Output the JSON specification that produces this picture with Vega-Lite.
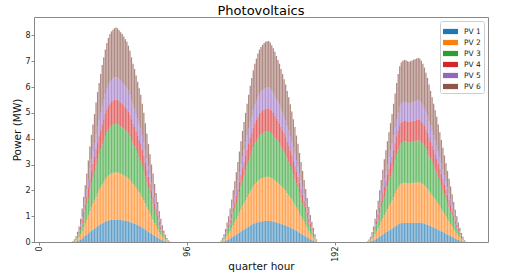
{
  "$schema": "https://vega.github.io/schema/vega-lite/v6.json",
  "width": 454,
  "height": 225,
  "autosize": {"type": "none"},
  "padding": {"left": 34, "top": 17, "right": 35, "bottom": 33},
  "background": "white",
  "title": {"text": "Photovoltaics", "fontSize": 13, "font": "DejaVu Sans", "fontWeight": "normal", "color": "#000", "offset": -1, "anchor": "middle"},
  "config": {
    "font": "DejaVu Sans",
    "view": {"stroke": "#888", "strokeWidth": 1},
    "axis": {"domain": false, "grid": false, "tickColor": "#888", "tickSize": 3, "labelFontSize": 8, "labelColor": "#222", "titleFontSize": 10.5, "titleFontWeight": "normal", "titleColor": "#111", "labelPadding": 1}
  },
  "data": {"values": [
{"t":22,"1":0.004,"2":0.009,"3":0.009,"4":0.005,"5":0.004,"6":0.009},
{"t":23,"1":0.011,"2":0.022,"3":0.023,"4":0.011,"5":0.011,"6":0.023},
{"t":24,"1":0.023,"2":0.048,"3":0.05,"4":0.025,"5":0.023,"6":0.051},
{"t":25,"1":0.042,"2":0.088,"3":0.091,"4":0.045,"5":0.042,"6":0.092},
{"t":26,"1":0.063,"2":0.132,"3":0.136,"4":0.068,"5":0.063,"6":0.138},
{"t":27,"1":0.095,"2":0.198,"3":0.204,"4":0.102,"5":0.095,"6":0.207},
{"t":28,"1":0.137,"2":0.286,"3":0.295,"4":0.147,"5":0.137,"6":0.299},
{"t":29,"1":0.184,"2":0.385,"3":0.397,"4":0.198,"5":0.184,"6":0.403},
{"t":30,"1":0.231,"2":0.484,"3":0.499,"4":0.249,"5":0.231,"6":0.506},
{"t":31,"1":0.278,"2":0.583,"3":0.602,"4":0.299,"5":0.278,"6":0.61},
{"t":32,"1":0.331,"2":0.693,"3":0.715,"4":0.356,"5":0.331,"6":0.725},
{"t":33,"1":0.389,"2":0.814,"3":0.84,"4":0.418,"5":0.389,"6":0.851},
{"t":34,"1":0.436,"2":0.913,"3":0.942,"4":0.469,"5":0.436,"6":0.955},
{"t":35,"1":0.478,"2":1.001,"3":1.033,"4":0.514,"5":0.478,"6":1.047},
{"t":36,"1":0.52,"2":1.089,"3":1.124,"4":0.559,"5":0.52,"6":1.139},
{"t":37,"1":0.567,"2":1.188,"3":1.226,"4":0.61,"5":0.567,"6":1.242},
{"t":38,"1":0.609,"2":1.276,"3":1.317,"4":0.655,"5":0.609,"6":1.334},
{"t":39,"1":0.646,"2":1.353,"3":1.396,"4":0.695,"5":0.646,"6":1.415},
{"t":40,"1":0.683,"2":1.43,"3":1.476,"4":0.735,"5":0.683,"6":1.495},
{"t":41,"1":0.719,"2":1.507,"3":1.555,"4":0.774,"5":0.719,"6":1.576},
{"t":42,"1":0.751,"2":1.573,"3":1.623,"4":0.808,"5":0.751,"6":1.645},
{"t":43,"1":0.782,"2":1.639,"3":1.691,"4":0.842,"5":0.782,"6":1.714},
{"t":44,"1":0.809,"2":1.694,"3":1.748,"4":0.87,"5":0.809,"6":1.771},
{"t":45,"1":0.83,"2":1.738,"3":1.793,"4":0.893,"5":0.83,"6":1.817},
{"t":46,"1":0.845,"2":1.771,"3":1.827,"4":0.91,"5":0.845,"6":1.852},
{"t":47,"1":0.856,"2":1.793,"3":1.85,"4":0.921,"5":0.856,"6":1.875},
{"t":48,"1":0.863,"2":1.808,"3":1.866,"4":0.929,"5":0.863,"6":1.891},
{"t":49,"1":0.869,"2":1.822,"3":1.88,"4":0.936,"5":0.869,"6":1.904},
{"t":50,"1":0.872,"2":1.826,"3":1.884,"4":0.938,"5":0.872,"6":1.909},
{"t":51,"1":0.868,"2":1.819,"3":1.877,"4":0.935,"5":0.868,"6":1.902},
{"t":52,"1":0.861,"2":1.804,"3":1.861,"4":0.927,"5":0.861,"6":1.886},
{"t":53,"1":0.853,"2":1.786,"3":1.843,"4":0.918,"5":0.853,"6":1.868},
{"t":54,"1":0.845,"2":1.771,"3":1.827,"4":0.91,"5":0.845,"6":1.852},
{"t":55,"1":0.835,"2":1.749,"3":1.805,"4":0.898,"5":0.835,"6":1.829},
{"t":56,"1":0.824,"2":1.727,"3":1.782,"4":0.887,"5":0.824,"6":1.806},
{"t":57,"1":0.814,"2":1.705,"3":1.759,"4":0.876,"5":0.814,"6":1.783},
{"t":58,"1":0.798,"2":1.672,"3":1.725,"4":0.859,"5":0.798,"6":1.748},
{"t":59,"1":0.777,"2":1.628,"3":1.68,"4":0.836,"5":0.777,"6":1.702},
{"t":60,"1":0.751,"2":1.573,"3":1.623,"4":0.808,"5":0.751,"6":1.645},
{"t":61,"1":0.725,"2":1.518,"3":1.566,"4":0.78,"5":0.725,"6":1.587},
{"t":62,"1":0.704,"2":1.474,"3":1.521,"4":0.757,"5":0.704,"6":1.541},
{"t":63,"1":0.677,"2":1.419,"3":1.464,"4":0.729,"5":0.677,"6":1.484},
{"t":64,"1":0.651,"2":1.364,"3":1.407,"4":0.701,"5":0.651,"6":1.426},
{"t":65,"1":0.625,"2":1.309,"3":1.351,"4":0.672,"5":0.625,"6":1.369},
{"t":66,"1":0.599,"2":1.254,"3":1.294,"4":0.644,"5":0.599,"6":1.311},
{"t":67,"1":0.562,"2":1.177,"3":1.214,"4":0.605,"5":0.562,"6":1.231},
{"t":68,"1":0.525,"2":1.1,"3":1.135,"4":0.565,"5":0.525,"6":1.15},
{"t":69,"1":0.483,"2":1.012,"3":1.044,"4":0.52,"5":0.483,"6":1.058},
{"t":70,"1":0.441,"2":0.924,"3":0.953,"4":0.475,"5":0.441,"6":0.966},
{"t":71,"1":0.399,"2":0.836,"3":0.863,"4":0.429,"5":0.399,"6":0.874},
{"t":72,"1":0.357,"2":0.748,"3":0.772,"4":0.384,"5":0.357,"6":0.782},
{"t":73,"1":0.315,"2":0.66,"3":0.681,"4":0.339,"5":0.315,"6":0.69},
{"t":74,"1":0.278,"2":0.583,"3":0.602,"4":0.299,"5":0.278,"6":0.61},
{"t":75,"1":0.236,"2":0.495,"3":0.511,"4":0.254,"5":0.236,"6":0.518},
{"t":76,"1":0.2,"2":0.418,"3":0.431,"4":0.215,"5":0.2,"6":0.437},
{"t":77,"1":0.163,"2":0.341,"3":0.352,"4":0.175,"5":0.163,"6":0.357},
{"t":78,"1":0.126,"2":0.264,"3":0.272,"4":0.136,"5":0.126,"6":0.276},
{"t":79,"1":0.095,"2":0.198,"3":0.204,"4":0.102,"5":0.095,"6":0.207},
{"t":80,"1":0.068,"2":0.143,"3":0.148,"4":0.073,"5":0.068,"6":0.15},
{"t":81,"1":0.047,"2":0.099,"3":0.102,"4":0.051,"5":0.047,"6":0.104},
{"t":82,"1":0.029,"2":0.062,"3":0.064,"4":0.032,"5":0.029,"6":0.064},
{"t":83,"1":0.016,"2":0.033,"3":0.034,"4":0.017,"5":0.016,"6":0.035},
{"t":84,"1":0.007,"2":0.015,"3":0.016,"4":0.008,"5":0.007,"6":0.016},
{"t":85,"1":0.002,"2":0.004,"3":0.005,"4":0.002,"5":0.002,"6":0.005},
{"t":118,"1":0.005,"2":0.011,"3":0.011,"4":0.006,"5":0.005,"6":0.012},
{"t":119,"1":0.016,"2":0.033,"3":0.034,"4":0.017,"5":0.016,"6":0.035},
{"t":120,"1":0.032,"2":0.066,"3":0.068,"4":0.034,"5":0.032,"6":0.069},
{"t":121,"1":0.053,"2":0.11,"3":0.114,"4":0.057,"5":0.053,"6":0.115},
{"t":122,"1":0.079,"2":0.165,"3":0.17,"4":0.085,"5":0.079,"6":0.173},
{"t":123,"1":0.105,"2":0.22,"3":0.227,"4":0.113,"5":0.105,"6":0.23},
{"t":124,"1":0.137,"2":0.286,"3":0.295,"4":0.147,"5":0.137,"6":0.299},
{"t":125,"1":0.173,"2":0.363,"3":0.375,"4":0.186,"5":0.173,"6":0.38},
{"t":126,"1":0.21,"2":0.44,"3":0.454,"4":0.226,"5":0.21,"6":0.46},
{"t":127,"1":0.247,"2":0.517,"3":0.533,"4":0.266,"5":0.247,"6":0.541},
{"t":128,"1":0.284,"2":0.594,"3":0.613,"4":0.305,"5":0.284,"6":0.621},
{"t":129,"1":0.326,"2":0.682,"3":0.704,"4":0.35,"5":0.326,"6":0.713},
{"t":130,"1":0.368,"2":0.77,"3":0.795,"4":0.396,"5":0.368,"6":0.805},
{"t":131,"1":0.41,"2":0.858,"3":0.885,"4":0.441,"5":0.41,"6":0.897},
{"t":132,"1":0.452,"2":0.946,"3":0.976,"4":0.486,"5":0.452,"6":0.989},
{"t":133,"1":0.488,"2":1.023,"3":1.056,"4":0.525,"5":0.488,"6":1.07},
{"t":134,"1":0.525,"2":1.1,"3":1.135,"4":0.565,"5":0.525,"6":1.15},
{"t":135,"1":0.562,"2":1.177,"3":1.214,"4":0.605,"5":0.562,"6":1.231},
{"t":136,"1":0.599,"2":1.254,"3":1.294,"4":0.644,"5":0.599,"6":1.311},
{"t":137,"1":0.635,"2":1.331,"3":1.373,"4":0.684,"5":0.635,"6":1.392},
{"t":138,"1":0.667,"2":1.397,"3":1.441,"4":0.718,"5":0.667,"6":1.461},
{"t":139,"1":0.698,"2":1.463,"3":1.51,"4":0.751,"5":0.698,"6":1.53},
{"t":140,"1":0.725,"2":1.518,"3":1.566,"4":0.78,"5":0.725,"6":1.587},
{"t":141,"1":0.746,"2":1.562,"3":1.612,"4":0.802,"5":0.746,"6":1.633},
{"t":142,"1":0.767,"2":1.606,"3":1.657,"4":0.825,"5":0.767,"6":1.679},
{"t":143,"1":0.782,"2":1.639,"3":1.691,"4":0.842,"5":0.782,"6":1.714},
{"t":144,"1":0.793,"2":1.661,"3":1.714,"4":0.853,"5":0.793,"6":1.737},
{"t":145,"1":0.801,"2":1.679,"3":1.732,"4":0.862,"5":0.801,"6":1.755},
{"t":146,"1":0.809,"2":1.694,"3":1.748,"4":0.87,"5":0.809,"6":1.771},
{"t":147,"1":0.814,"2":1.705,"3":1.759,"4":0.876,"5":0.814,"6":1.783},
{"t":148,"1":0.816,"2":1.709,"3":1.764,"4":0.878,"5":0.816,"6":1.787},
{"t":149,"1":0.817,"2":1.712,"3":1.766,"4":0.879,"5":0.817,"6":1.789},
{"t":150,"1":0.811,"2":1.698,"3":1.752,"4":0.872,"5":0.811,"6":1.776},
{"t":151,"1":0.8,"2":1.676,"3":1.73,"4":0.861,"5":0.8,"6":1.753},
{"t":152,"1":0.788,"2":1.65,"3":1.703,"4":0.848,"5":0.788,"6":1.725},
{"t":153,"1":0.773,"2":1.619,"3":1.671,"4":0.832,"5":0.773,"6":1.693},
{"t":154,"1":0.756,"2":1.584,"3":1.634,"4":0.814,"5":0.756,"6":1.656},
{"t":155,"1":0.74,"2":1.551,"3":1.6,"4":0.797,"5":0.74,"6":1.622},
{"t":156,"1":0.725,"2":1.518,"3":1.566,"4":0.78,"5":0.725,"6":1.587},
{"t":157,"1":0.704,"2":1.474,"3":1.521,"4":0.757,"5":0.704,"6":1.541},
{"t":158,"1":0.683,"2":1.43,"3":1.476,"4":0.735,"5":0.683,"6":1.495},
{"t":159,"1":0.662,"2":1.386,"3":1.43,"4":0.712,"5":0.662,"6":1.449},
{"t":160,"1":0.641,"2":1.342,"3":1.385,"4":0.689,"5":0.641,"6":1.403},
{"t":161,"1":0.614,"2":1.287,"3":1.328,"4":0.661,"5":0.614,"6":1.346},
{"t":162,"1":0.588,"2":1.232,"3":1.271,"4":0.633,"5":0.588,"6":1.288},
{"t":163,"1":0.56,"2":1.173,"3":1.21,"4":0.602,"5":0.56,"6":1.226},
{"t":164,"1":0.53,"2":1.111,"3":1.146,"4":0.571,"5":0.53,"6":1.162},
{"t":165,"1":0.499,"2":1.045,"3":1.078,"4":0.537,"5":0.499,"6":1.093},
{"t":166,"1":0.467,"2":0.979,"3":1.01,"4":0.503,"5":0.467,"6":1.024},
{"t":167,"1":0.433,"2":0.906,"3":0.935,"4":0.466,"5":0.433,"6":0.948},
{"t":168,"1":0.399,"2":0.836,"3":0.863,"4":0.429,"5":0.399,"6":0.874},
{"t":169,"1":0.362,"2":0.759,"3":0.783,"4":0.39,"5":0.362,"6":0.794},
{"t":170,"1":0.326,"2":0.682,"3":0.704,"4":0.35,"5":0.326,"6":0.713},
{"t":171,"1":0.289,"2":0.605,"3":0.624,"4":0.311,"5":0.289,"6":0.633},
{"t":172,"1":0.252,"2":0.528,"3":0.545,"4":0.271,"5":0.252,"6":0.552},
{"t":173,"1":0.215,"2":0.451,"3":0.465,"4":0.232,"5":0.215,"6":0.472},
{"t":174,"1":0.179,"2":0.374,"3":0.386,"4":0.192,"5":0.179,"6":0.391},
{"t":175,"1":0.142,"2":0.297,"3":0.306,"4":0.153,"5":0.142,"6":0.311},
{"t":176,"1":0.11,"2":0.231,"3":0.238,"4":0.119,"5":0.11,"6":0.242},
{"t":177,"1":0.082,"2":0.172,"3":0.177,"4":0.088,"5":0.082,"6":0.179},
{"t":178,"1":0.058,"2":0.121,"3":0.125,"4":0.062,"5":0.058,"6":0.127},
{"t":179,"1":0.032,"2":0.066,"3":0.068,"4":0.034,"5":0.032,"6":0.069},
{"t":180,"1":0.011,"2":0.022,"3":0.023,"4":0.011,"5":0.011,"6":0.023},
{"t":213,"1":0.003,"2":0.007,"3":0.007,"4":0.003,"5":0.003,"6":0.007},
{"t":214,"1":0.011,"2":0.022,"3":0.023,"4":0.011,"5":0.011,"6":0.023},
{"t":215,"1":0.021,"2":0.044,"3":0.045,"4":0.023,"5":0.021,"6":0.046},
{"t":216,"1":0.04,"2":0.084,"3":0.086,"4":0.043,"5":0.04,"6":0.087},
{"t":217,"1":0.063,"2":0.132,"3":0.136,"4":0.068,"5":0.063,"6":0.138},
{"t":218,"1":0.095,"2":0.198,"3":0.204,"4":0.102,"5":0.095,"6":0.207},
{"t":219,"1":0.131,"2":0.275,"3":0.284,"4":0.141,"5":0.131,"6":0.288},
{"t":220,"1":0.168,"2":0.352,"3":0.363,"4":0.181,"5":0.168,"6":0.368},
{"t":221,"1":0.21,"2":0.44,"3":0.454,"4":0.226,"5":0.21,"6":0.46},
{"t":222,"1":0.252,"2":0.528,"3":0.545,"4":0.271,"5":0.252,"6":0.552},
{"t":223,"1":0.294,"2":0.616,"3":0.636,"4":0.316,"5":0.294,"6":0.644},
{"t":224,"1":0.336,"2":0.704,"3":0.726,"4":0.362,"5":0.336,"6":0.736},
{"t":225,"1":0.373,"2":0.781,"3":0.806,"4":0.401,"5":0.373,"6":0.817},
{"t":226,"1":0.41,"2":0.858,"3":0.885,"4":0.441,"5":0.41,"6":0.897},
{"t":227,"1":0.446,"2":0.935,"3":0.965,"4":0.48,"5":0.446,"6":0.978},
{"t":228,"1":0.483,"2":1.012,"3":1.044,"4":0.52,"5":0.483,"6":1.058},
{"t":229,"1":0.52,"2":1.089,"3":1.124,"4":0.559,"5":0.52,"6":1.139},
{"t":230,"1":0.562,"2":1.177,"3":1.214,"4":0.605,"5":0.562,"6":1.231},
{"t":231,"1":0.604,"2":1.265,"3":1.305,"4":0.65,"5":0.604,"6":1.323},
{"t":232,"1":0.646,"2":1.353,"3":1.396,"4":0.695,"5":0.646,"6":1.415},
{"t":233,"1":0.683,"2":1.43,"3":1.476,"4":0.735,"5":0.683,"6":1.495},
{"t":234,"1":0.714,"2":1.496,"3":1.544,"4":0.768,"5":0.714,"6":1.564},
{"t":235,"1":0.73,"2":1.529,"3":1.578,"4":0.785,"5":0.73,"6":1.599},
{"t":236,"1":0.737,"2":1.544,"3":1.594,"4":0.793,"5":0.737,"6":1.615},
{"t":237,"1":0.74,"2":1.551,"3":1.6,"4":0.797,"5":0.74,"6":1.622},
{"t":238,"1":0.739,"2":1.549,"3":1.598,"4":0.796,"5":0.739,"6":1.619},
{"t":239,"1":0.735,"2":1.54,"3":1.589,"4":0.791,"5":0.735,"6":1.61},
{"t":240,"1":0.733,"2":1.536,"3":1.584,"4":0.789,"5":0.733,"6":1.605},
{"t":241,"1":0.735,"2":1.54,"3":1.589,"4":0.791,"5":0.735,"6":1.61},
{"t":242,"1":0.738,"2":1.547,"3":1.596,"4":0.794,"5":0.738,"6":1.617},
{"t":243,"1":0.741,"2":1.553,"3":1.603,"4":0.798,"5":0.741,"6":1.624},
{"t":244,"1":0.743,"2":1.558,"3":1.607,"4":0.8,"5":0.743,"6":1.628},
{"t":245,"1":0.746,"2":1.562,"3":1.612,"4":0.802,"5":0.746,"6":1.633},
{"t":246,"1":0.748,"2":1.566,"3":1.616,"4":0.805,"5":0.748,"6":1.638},
{"t":247,"1":0.746,"2":1.562,"3":1.612,"4":0.802,"5":0.746,"6":1.633},
{"t":248,"1":0.737,"2":1.544,"3":1.594,"4":0.793,"5":0.737,"6":1.615},
{"t":249,"1":0.725,"2":1.518,"3":1.566,"4":0.78,"5":0.725,"6":1.587},
{"t":250,"1":0.709,"2":1.485,"3":1.532,"4":0.763,"5":0.709,"6":1.553},
{"t":251,"1":0.688,"2":1.441,"3":1.487,"4":0.74,"5":0.688,"6":1.507},
{"t":252,"1":0.667,"2":1.397,"3":1.441,"4":0.718,"5":0.667,"6":1.461},
{"t":253,"1":0.641,"2":1.342,"3":1.385,"4":0.689,"5":0.641,"6":1.403},
{"t":254,"1":0.614,"2":1.287,"3":1.328,"4":0.661,"5":0.614,"6":1.346},
{"t":255,"1":0.588,"2":1.232,"3":1.271,"4":0.633,"5":0.588,"6":1.288},
{"t":256,"1":0.562,"2":1.177,"3":1.214,"4":0.605,"5":0.562,"6":1.231},
{"t":257,"1":0.536,"2":1.122,"3":1.158,"4":0.576,"5":0.536,"6":1.173},
{"t":258,"1":0.509,"2":1.067,"3":1.101,"4":0.548,"5":0.509,"6":1.116},
{"t":259,"1":0.478,"2":1.001,"3":1.033,"4":0.514,"5":0.478,"6":1.047},
{"t":260,"1":0.446,"2":0.935,"3":0.965,"4":0.48,"5":0.446,"6":0.978},
{"t":261,"1":0.415,"2":0.869,"3":0.897,"4":0.446,"5":0.415,"6":0.909},
{"t":262,"1":0.383,"2":0.803,"3":0.829,"4":0.412,"5":0.383,"6":0.84},
{"t":263,"1":0.352,"2":0.737,"3":0.76,"4":0.379,"5":0.352,"6":0.771},
{"t":264,"1":0.32,"2":0.671,"3":0.692,"4":0.345,"5":0.32,"6":0.702},
{"t":265,"1":0.289,"2":0.605,"3":0.624,"4":0.311,"5":0.289,"6":0.633},
{"t":266,"1":0.257,"2":0.539,"3":0.556,"4":0.277,"5":0.257,"6":0.564},
{"t":267,"1":0.226,"2":0.473,"3":0.488,"4":0.243,"5":0.226,"6":0.495},
{"t":268,"1":0.194,"2":0.407,"3":0.42,"4":0.209,"5":0.194,"6":0.426},
{"t":269,"1":0.163,"2":0.341,"3":0.352,"4":0.175,"5":0.163,"6":0.357},
{"t":270,"1":0.131,"2":0.275,"3":0.284,"4":0.141,"5":0.131,"6":0.288},
{"t":271,"1":0.105,"2":0.22,"3":0.227,"4":0.113,"5":0.105,"6":0.23},
{"t":272,"1":0.079,"2":0.165,"3":0.17,"4":0.085,"5":0.079,"6":0.173},
{"t":273,"1":0.058,"2":0.121,"3":0.125,"4":0.062,"5":0.058,"6":0.127},
{"t":274,"1":0.037,"2":0.077,"3":0.079,"4":0.04,"5":0.037,"6":0.081},
{"t":275,"1":0.021,"2":0.044,"3":0.045,"4":0.023,"5":0.021,"6":0.046},
{"t":276,"1":0.008,"2":0.018,"3":0.018,"4":0.009,"5":0.008,"6":0.018},
{"t":277,"1":0.002,"2":0.004,"3":0.005,"4":0.002,"5":0.002,"6":0.005}
  ]},
  "transform": [{"fold": ["1", "2", "3", "4", "5", "6"], "as": ["pv", "mw"]}],
  "mark": {"type": "bar", "width": 1.26, "strokeWidth": 0, "fillOpacity": 0.7},
  "encoding": {
    "x": {"field": "t", "type": "quantitative", "scale": {"domain": [0, 288], "nice": false, "zero": false},
      "axis": {"values": [0, 96, 192], "labelAngle": -90, "title": "quarter hour", "titlePadding": 0}},
    "y": {"field": "mw", "type": "quantitative", "stack": "zero", "scale": {"domain": [0, 8.71], "nice": false},
      "axis": {"values": [0, 1, 2, 3, 4, 5, 6, 7, 8], "title": "Power (MW)", "titlePadding": 2}},
    "color": {"field": "pv", "type": "nominal",
      "scale": {"domain": ["1", "2", "3", "4", "5", "6"], "range": ["#1f77b4", "#ff7f0e", "#2ca02c", "#d62728", "#9467bd", "#8c564b"]},
      "legend": {"title": null, "orient": "top-right", "offset": 4, "labelExpr": "'PV ' + datum.label",
        "symbolType": "M-1,-0.35H1V0.35H-1Z", "symbolSize": 225, "symbolStrokeWidth": 0, "symbolOpacity": 1, "labelFontSize": 7.5, "labelColor": "#222",
        "rowPadding": -4.5, "labelOffset": 6, "padding": 3, "strokeColor": "#ccc", "fillColor": "white", "cornerRadius": 2}},
    "order": {"field": "pv", "type": "ordinal"}
  }
}
